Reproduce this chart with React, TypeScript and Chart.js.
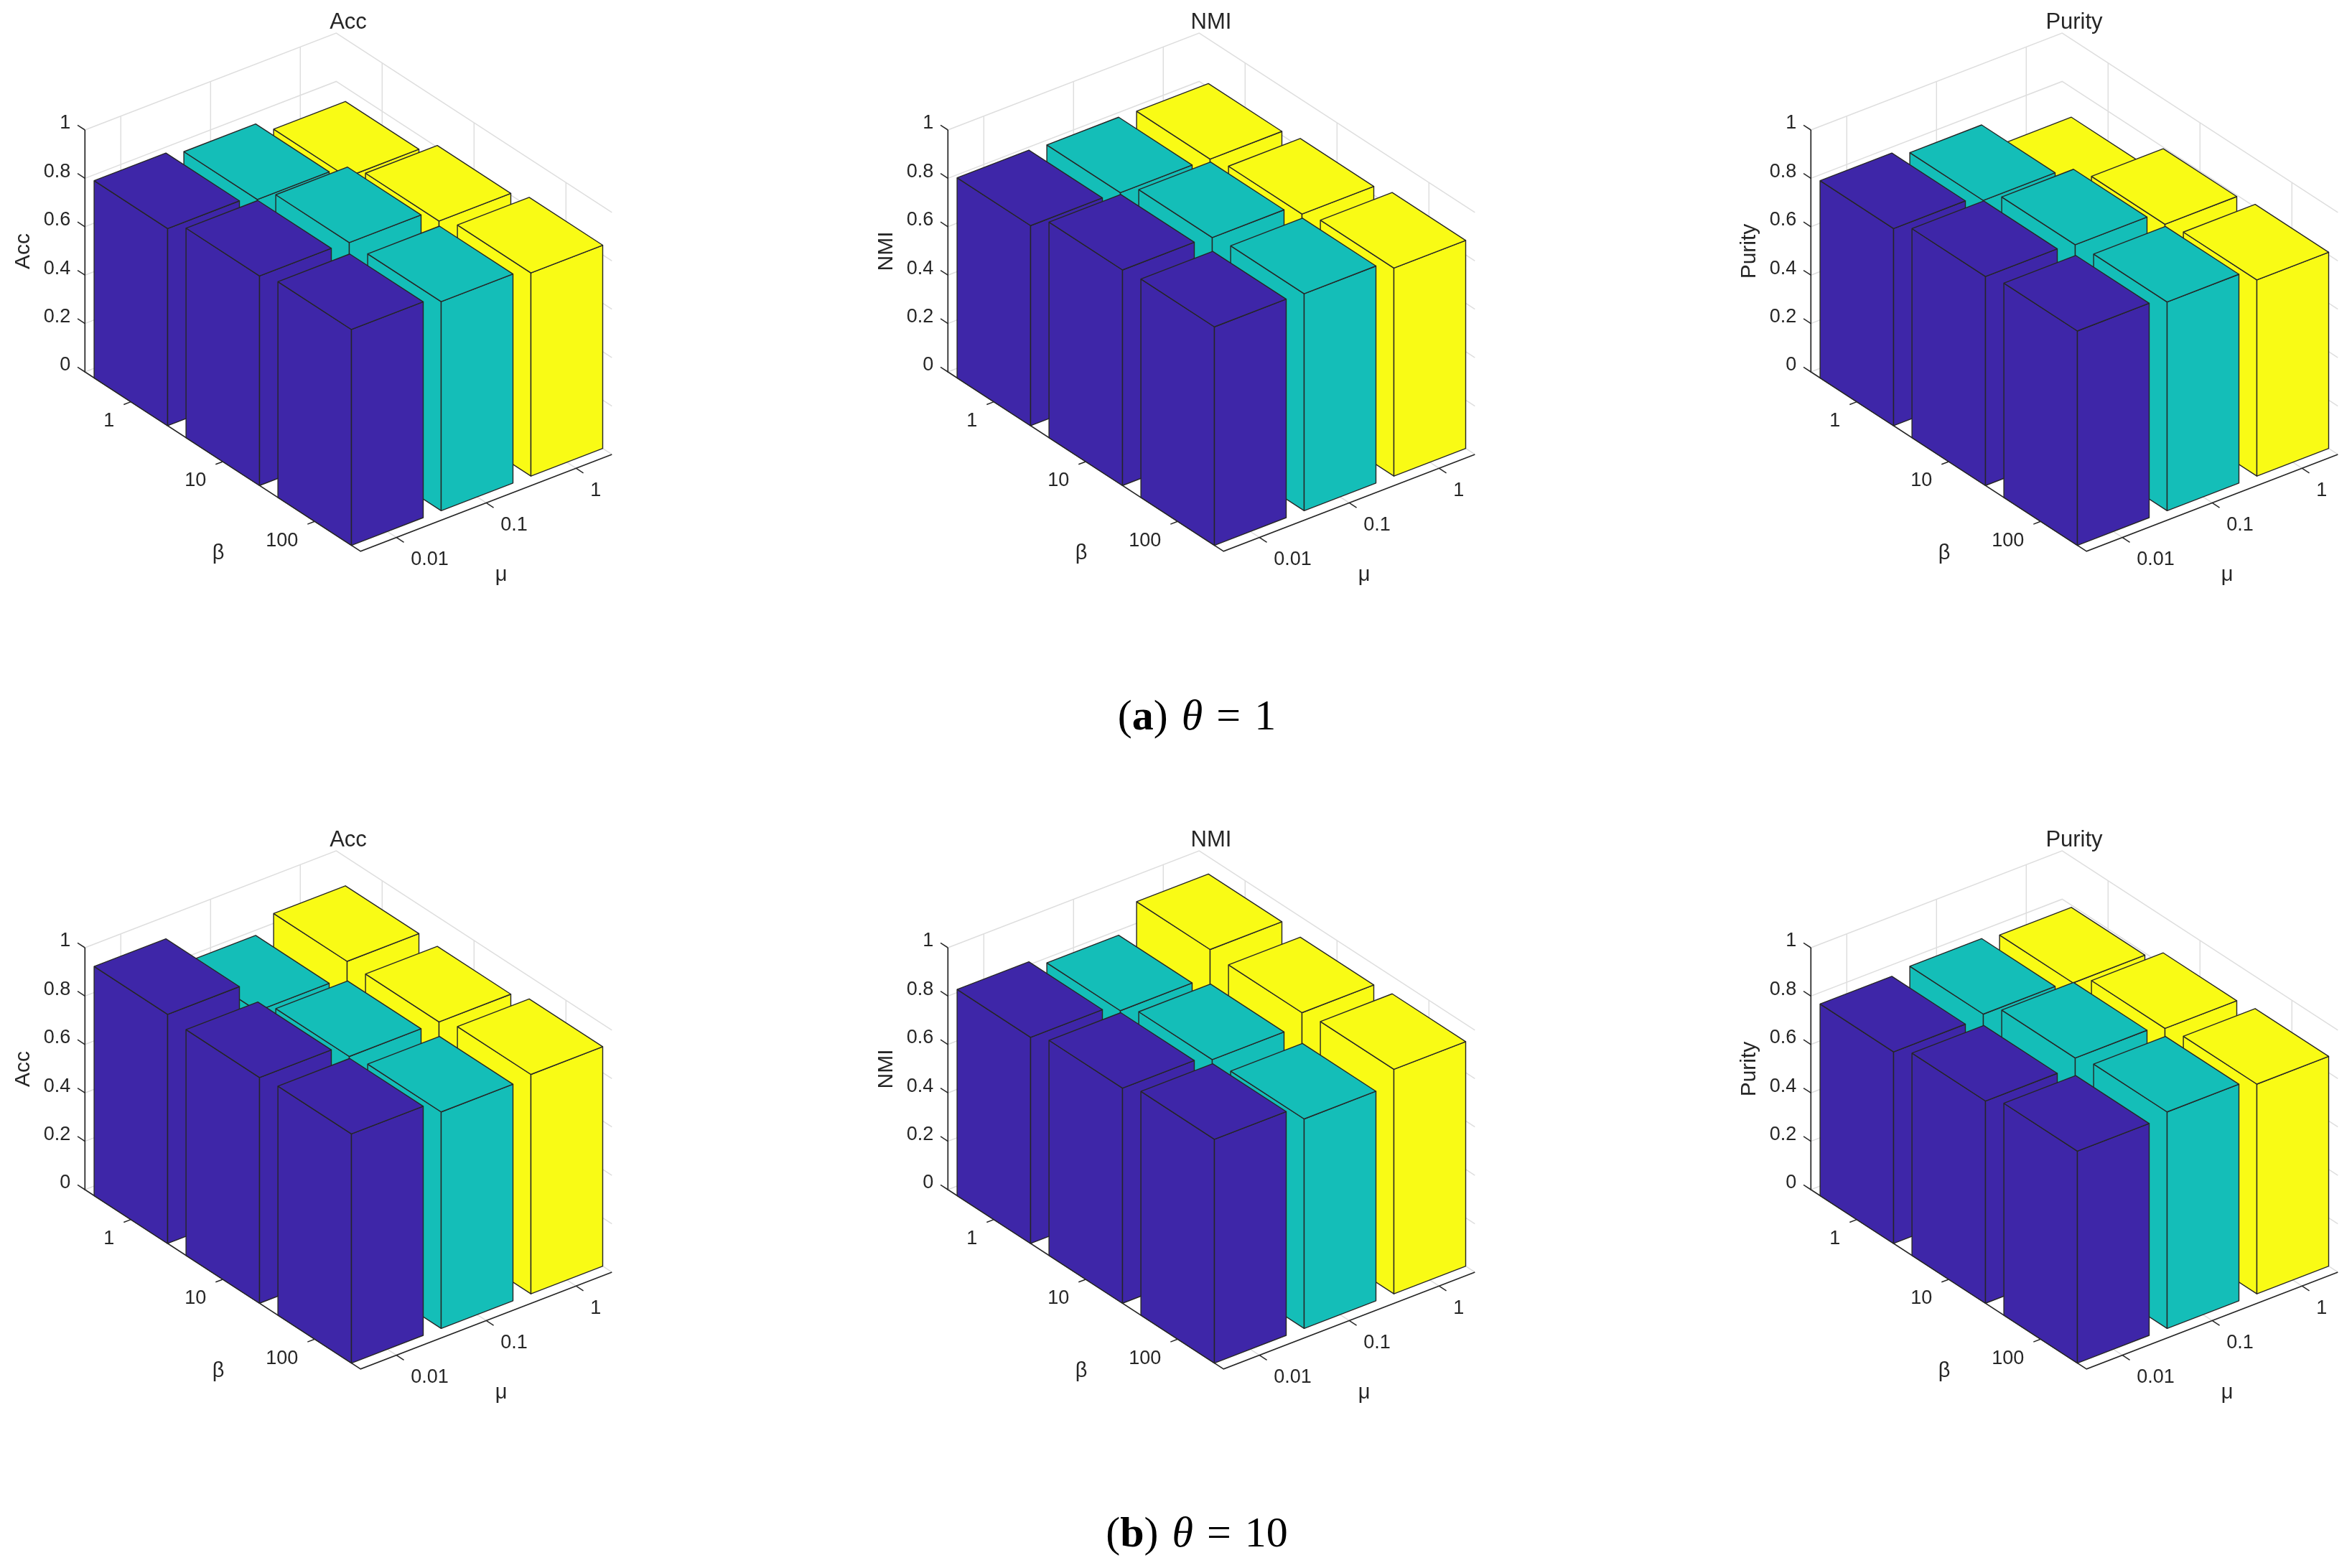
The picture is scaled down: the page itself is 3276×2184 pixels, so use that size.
import React, { useEffect, useRef } from "react";
import { Chart, registerables } from "chart.js";

Chart.register(...registerables);

const muLabels = ["0.01", "0.1", "1"];
const betaLabels = ["1", "10", "100"];
const zTicks = [0, 0.2, 0.4, 0.6, 0.8, 1];

// Rows are beta = 1, 10, 100; columns are mu = 0.01, 0.1, 1.
const accTheta1 = [
  [0.815, 0.792, 0.742],
  [0.866, 0.861, 0.807],
  [0.892, 0.864, 0.84],
];
const nmiTheta1 = [
  [0.827, 0.82, 0.816],
  [0.891, 0.882, 0.836],
  [0.903, 0.897, 0.86],
];
const purityTheta1 = [
  [0.815, 0.788, 0.677],
  [0.864, 0.852, 0.794],
  [0.886, 0.863, 0.811],
];
const accTheta10 = [
  [0.947, 0.818, 0.88],
  [0.933, 0.877, 0.877],
  [0.947, 0.895, 0.907],
];
const nmiTheta10 = [
  [0.852, 0.819, 0.929],
  [0.889, 0.864, 0.915],
  [0.925, 0.866, 0.928],
];
const purityTheta10 = [
  [0.792, 0.805, 0.791],
  [0.836, 0.871, 0.85],
  [0.876, 0.895, 0.867],
];

const muColors = ["#3E26A8", "#14BEB8", "#F9FB15"];
const EDGE = "#262626";
const GRID = "#dedede";
const TEXT = "#262626";
const FONT = '"Liberation Sans", Arial, sans-serif';

const W = 1000;
const H = 950;

// Orthographic view of the MATLAB axes box: world (mu index, beta index, value) -> canvas units.
const MU_MIN = 0.6;
const MU_MAX = 3.4;
const BETA_MIN = 0.5;
const BETA_MAX = 3.5;
const HALF = 0.4;
function proj(m: number, b: number, z: number) {
  return {
    x: 118.3 + (m - MU_MIN) * 125 + (b - BETA_MIN) * 128,
    y: 518 - (m - MU_MIN) * 48.2 + (b - BETA_MIN) * 83.3 - z * 337,
  };
}

type P = { x: number; y: number };
function lineSet(points: P[], color: string, width: number) {
  return {
    data: points,
    showLine: true,
    fill: false,
    borderColor: color,
    borderWidth: width,
    pointRadius: 0,
    pointHoverRadius: 0,
    borderCapStyle: "butt",
    clip: false,
  };
}
function faceSet(points: P[], color: string) {
  return {
    data: [...points, points[0]],
    showLine: true,
    fill: "shape",
    backgroundColor: color,
    borderColor: EDGE,
    borderWidth: 1.4,
    borderJoinStyle: "round",
    pointRadius: 0,
    pointHoverRadius: 0,
    clip: false,
  };
}

function buildDatasets(values: number[][]) {
  const layers: any[] = [];
  // grid on the floor and the two back walls
  const grid: P[][] = [];
  zTicks.forEach((z) => {
    grid.push([proj(MU_MIN, BETA_MIN, z), proj(MU_MAX, BETA_MIN, z), proj(MU_MAX, BETA_MAX, z)]);
  });
  muLabels.forEach((_, j) => {
    const m = j + 1;
    grid.push([proj(m, BETA_MAX, 0), proj(m, BETA_MIN, 0), proj(m, BETA_MIN, 1)]);
  });
  betaLabels.forEach((_, i) => {
    const b = i + 1;
    grid.push([proj(MU_MIN, b, 0), proj(MU_MAX, b, 0), proj(MU_MAX, b, 1)]);
  });
  grid.forEach((g) => layers.push(lineSet(g, GRID, 1.5)));

  // axis lines and tick marks
  layers.push(lineSet([proj(MU_MIN, BETA_MIN, 1), proj(MU_MIN, BETA_MIN, 0), proj(MU_MIN, BETA_MAX, 0), proj(MU_MAX, BETA_MAX, 0)], EDGE, 1.7));
  zTicks.forEach((z) => layers.push(lineSet([proj(MU_MIN, BETA_MIN, z), proj(MU_MIN, BETA_MIN - 0.08, z)], EDGE, 1.5)));
  betaLabels.forEach((_, i) => layers.push(lineSet([proj(MU_MIN, i + 1, 0), proj(MU_MIN - 0.08, i + 1, 0)], EDGE, 1.5)));
  muLabels.forEach((_, j) => layers.push(lineSet([proj(j + 1, BETA_MAX, 0), proj(j + 1, BETA_MAX + 0.08, 0)], EDGE, 1.5)));

  // bars, far to near
  for (let j = muLabels.length - 1; j >= 0; j--) {
    for (let i = 0; i < betaLabels.length; i++) {
      const v = values[i][j];
      const m0 = j + 1 - HALF;
      const m1 = j + 1 + HALF;
      const b0 = i + 1 - HALF;
      const b1 = i + 1 + HALF;
      const c = muColors[j];
      layers.push(faceSet([proj(m0, b0, 0), proj(m0, b1, 0), proj(m0, b1, v), proj(m0, b0, v)], c));
      layers.push(faceSet([proj(m0, b1, 0), proj(m1, b1, 0), proj(m1, b1, v), proj(m0, b1, v)], c));
      layers.push(faceSet([proj(m0, b0, v), proj(m0, b1, v), proj(m1, b1, v), proj(m1, b0, v)], c));
    }
  }
  // Chart.js paints the first dataset last
  return layers.reverse();
}

const textPlugin = {
  id: "axisText",
  afterDraw(chart: any) {
    const { ctx, scales } = chart;
    const title = chart.options.plugins.axisText.title;
    const put = (t: string, p: P, align: CanvasTextAlign, dx: number, dy: number, size: number, rot = 0) => {
      const px = scales.x.getPixelForValue(p.x) + dx;
      const py = scales.y.getPixelForValue(p.y) + dy;
      ctx.save();
      ctx.translate(px, py);
      if (rot) ctx.rotate(rot);
      ctx.font = `${size}px ${FONT}`;
      ctx.fillStyle = TEXT;
      ctx.textAlign = align;
      ctx.textBaseline = "middle";
      ctx.fillText(t, 0, 0);
      ctx.restore();
    };
    zTicks.forEach((z) => put(String(z), proj(MU_MIN, BETA_MIN, z), "right", -20, -9, 27));
    betaLabels.forEach((t, i) => put(t, proj(MU_MIN, i + 1, 0), "right", -23, 27, 27));
    muLabels.forEach((t, j) => put(t, proj(j + 1, BETA_MAX, 0), "left", 20, 31, 27));
    put("β", { x: 304, y: 771 }, "center", 0, 0, 29);
    put("μ", { x: 698, y: 801 }, "center", 0, 0, 29);
    put(title, { x: 33, y: 350 }, "center", 0, 0, 30, -Math.PI / 2);
    put(title, { x: 485, y: 31 }, "center", 0, 0, 31);
  },
};

function Panel({ title, values, left, top }: { title: string; values: number[][]; left: number; top: number }) {
  const ref = useRef<HTMLCanvasElement>(null);
  useEffect(() => {
    const chart = new Chart(ref.current as HTMLCanvasElement, {
      type: "scatter",
      data: { datasets: buildDatasets(values) as any },
      options: {
        animation: false,
        responsive: false,
        devicePixelRatio: 1,
        layout: { padding: 0 },
        events: [],
        scales: {
          x: { type: "linear", min: 0, max: W, display: false },
          y: { type: "linear", min: 0, max: H, reverse: true, display: false },
        },
        plugins: {
          legend: { display: false },
          tooltip: { enabled: false },
          axisText: { title },
        } as any,
      },
      plugins: [textPlugin],
    });
    return () => chart.destroy();
  }, [title, values]);
  return <canvas ref={ref} width={W} height={H} style={{ position: "absolute", left, top, display: "block" }} />;
}

const colX = [0, 1202, 2404];
const rowY = [0, 1138.6];
const panels = [
  { title: "Acc", values: accTheta1, c: 0, r: 0 },
  { title: "NMI", values: nmiTheta1, c: 1, r: 0 },
  { title: "Purity", values: purityTheta1, c: 2, r: 0 },
  { title: "Acc", values: accTheta10, c: 0, r: 1 },
  { title: "NMI", values: nmiTheta10, c: 1, r: 1 },
  { title: "Purity", values: purityTheta10, c: 2, r: 1 },
];

function Caption({ tag, theta, top }: { tag: string; theta: string; top: number }) {
  return (
    <div
      style={{
        position: "absolute",
        left: 1167,
        width: 1000,
        top,
        textAlign: "center",
        fontFamily: '"Liberation Serif", serif',
        fontSize: 60,
        lineHeight: "60px",
        wordSpacing: 4,
        color: "#000",
        whiteSpace: "pre",
      }}
    >
      (<b>{tag}</b>) <i>θ</i> = {theta}
    </div>
  );
}

export default function App() {
  return (
    <div style={{ position: "fixed", left: 0, top: 0, width: 3276, height: 2184, background: "#fff", overflow: "hidden" }}>
      {panels.map((p, k) => (
        <Panel key={k} title={p.title} values={p.values} left={colX[p.c]} top={rowY[p.r]} />
      ))}
      <Caption tag="a" theta="1" top={966} />
      <Caption tag="b" theta="10" top={2104} />
    </div>
  );
}
